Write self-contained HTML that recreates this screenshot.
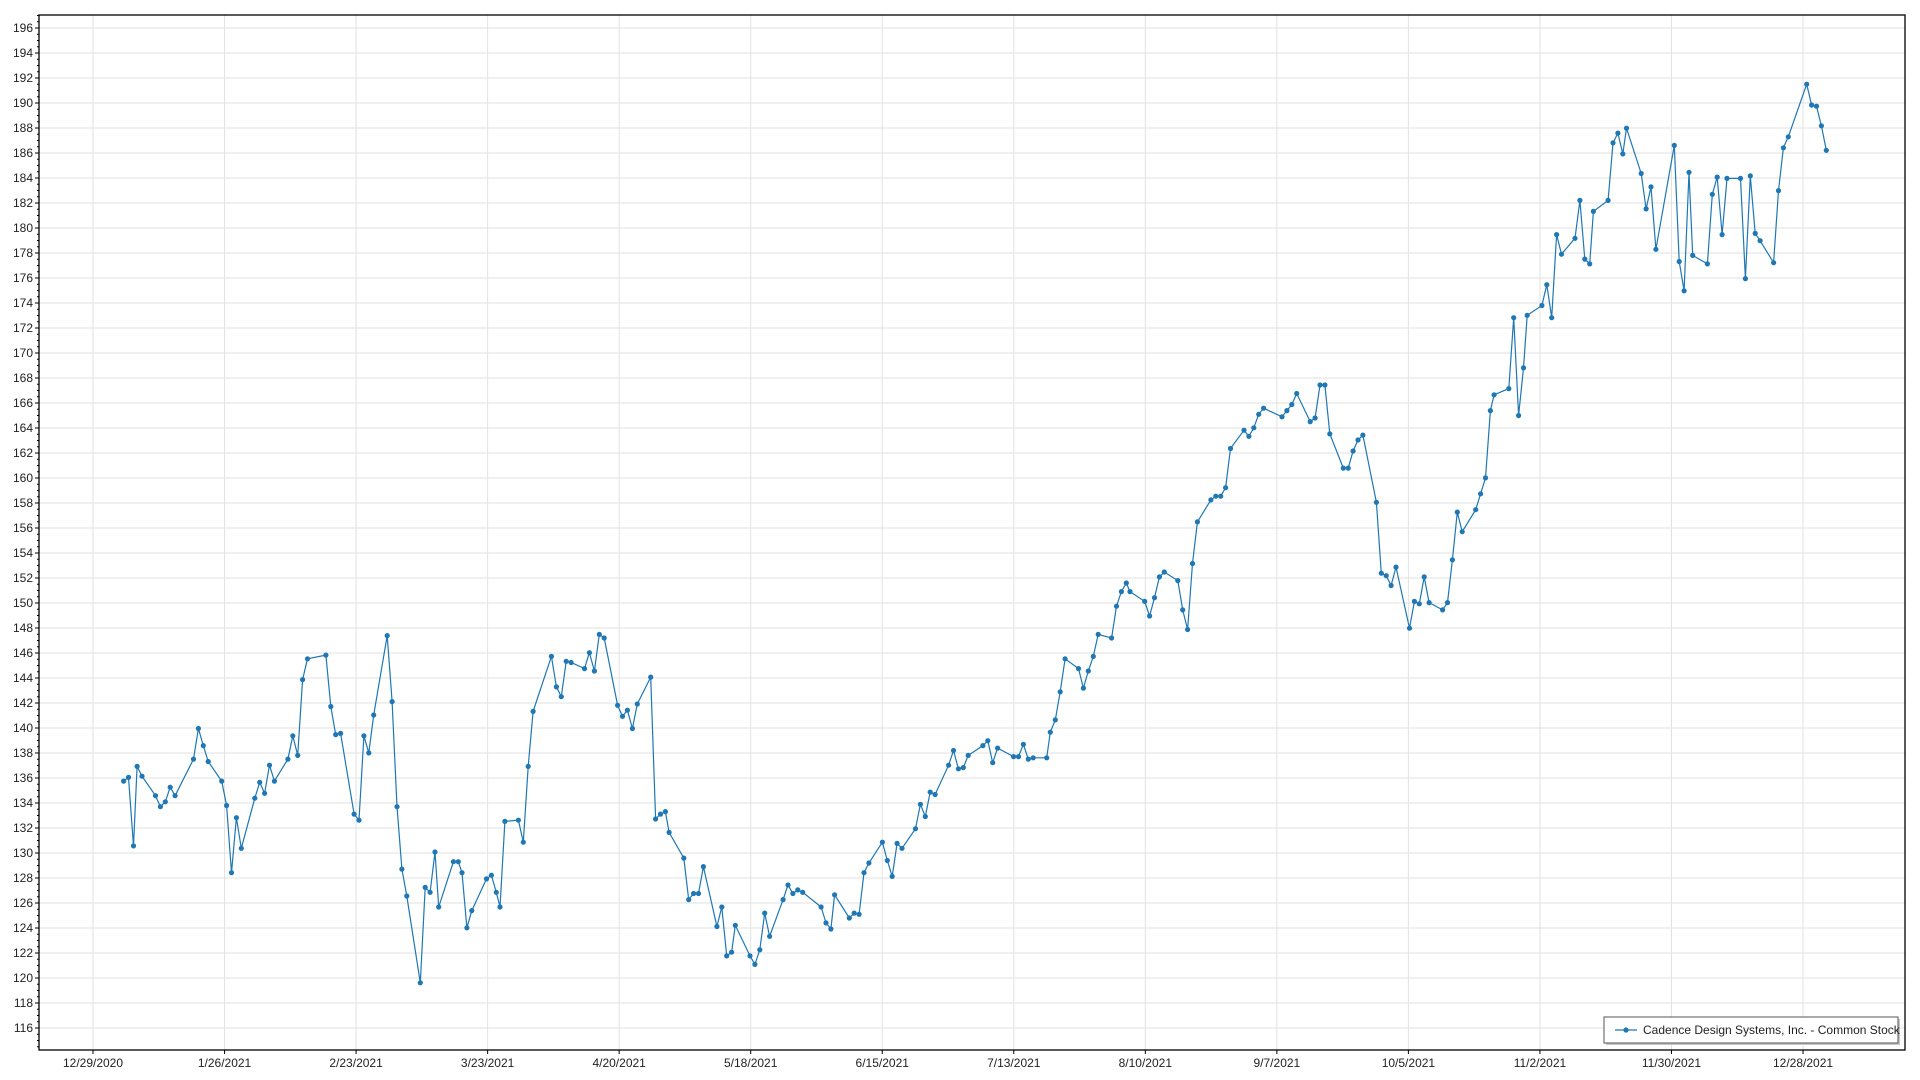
<!DOCTYPE html>
<html><head><meta charset="utf-8"><style>
html,body{margin:0;padding:0;background:#fff;width:1920px;height:1080px;overflow:hidden}
svg text{font-family:"Liberation Sans",sans-serif;font-size:12px;fill:#222}
</style></head><body>
<svg id="c" width="1920" height="1080" xmlns="http://www.w3.org/2000/svg"></svg>
<script>
const s=document.getElementById('c');let h='';
const L=39,T=15,R=1905,B=1050;
const Y=v=>28+(196-v)*12.5;
// grid horizontal
for(let v=116;v<=196;v+=2){const y=Y(v);h+=`<line x1="${L}" x2="${R}" y1="${y}" y2="${y}" stroke="#e2e2e2"/>`;
h+=`<line x1="${L-4}" x2="${L}" y1="${y}" y2="${y}" stroke="#000"/><text x="${L-6}" y="${y+4}" text-anchor="end">${v}</text>`;}
for(let v=114.5;v<=197;v+=0.5){if(v%2===0)continue;const y=Y(v);if(y<T||y>B)continue;h+=`<line x1="${L-2}" x2="${L}" y1="${y}" y2="${y}" stroke="#000"/>`;}
const labs=["12/29/2020","1/26/2021","2/23/2021","3/23/2021","4/20/2021","5/18/2021","6/15/2021","7/13/2021","8/10/2021","9/7/2021","10/5/2021","11/2/2021","11/30/2021","12/28/2021"];
labs.forEach((t,i)=>{const x=93+i*131.54;h+=`<line x1="${x}" x2="${x}" y1="${T}" y2="${B}" stroke="#e2e2e2"/><line x1="${x}" x2="${x}" y1="${B}" y2="${B+4}" stroke="#000"/><text x="${x}" y="${B+17}" text-anchor="middle">${t}</text>`;});
h+=`<rect x="${L}" y="${T}" width="${R-L}" height="${B-T}" fill="none" stroke="#000" stroke-width="1.3"/>`;
const d=[[101,637],[105,634],[109,690],[112,625],[116,633],[127,649],[131,658],[135,654],[139,642],[143,649],[158,619],[162,594],[166,608],[170,621],[181,637],[185,657],[189,712],[193,667],[197,692],[208,651],[212,638],[216,647],[220,624],[224,637],[235,619],[239,600],[243,616],[247,554],[251,537],[266,534],[270,576],[274,599],[278,598],[289,664],[293,669],[297,600],[301,614],[305,583],[316,518],[320,572],[324,658],[328,709],[332,731],[343,802],[347,724],[351,728],[355,695],[358,740],[370,703],[374,703],[377,712],[381,757],[385,743],[397,717],[401,714],[405,728],[408,740],[412,670],[423,669],[427,687],[431,625],[435,580],[450,535],[454,560],[458,568],[462,539],[466,540],[477,545],[481,532],[485,547],[489,517],[493,520],[504,575],[508,584],[512,579],[516,594],[520,574],[531,552],[535,668],[539,664],[543,662],[546,679],[558,700],[562,734],[566,729],[570,729],[574,707],[585,756],[589,740],[593,780],[597,777],[600,755],[612,780],[616,787],[620,775],[624,745],[628,764],[639,734],[643,722],[647,729],[651,726],[655,728],[670,740],[674,753],[678,758],[681,730],[693,749],[697,745],[701,746],[705,712],[709,704],[720,687],[724,702],[728,715],[732,688],[736,692],[747,676],[751,656],[755,666],[759,646],[763,648],[774,624],[778,612],[782,627],[786,626],[790,616],[802,608],[806,604],[810,622],[814,610],[827,617],[831,617],[835,607],[839,619],[843,618],[854,618],[857,597],[861,587],[865,564],[869,537],[880,545],[884,561],[888,547],[892,535],[896,517],[907,520],[911,494],[915,482],[919,475],[922,482],[934,490],[938,502],[942,487],[946,470],[950,466],[961,473],[965,497],[969,513],[973,459],[977,425],[988,407],[992,404],[996,404],[1000,397],[1004,365],[1015,350],[1019,355],[1023,348],[1027,337],[1031,332],[1046,339],[1050,334],[1054,329],[1058,320],[1069,343],[1073,340],[1077,313],[1081,313],[1085,353],[1096,381],[1100,381],[1104,367],[1108,358],[1112,354],[1123,409],[1127,467],[1131,469],[1135,477],[1139,462],[1150,512],[1154,490],[1158,492],[1162,470],[1166,491],[1177,497],[1181,491],[1185,456],[1189,417],[1193,433],[1204,415],[1208,402],[1212,389],[1216,334],[1219,321],[1231,316],[1235,258],[1239,338],[1243,299],[1246,256],[1258,248],[1262,231],[1266,258],[1270,190],[1274,206],[1285,193],[1289,162],[1293,210],[1297,214],[1300,171],[1312,162],[1316,115],[1320,107],[1324,124],[1327,103],[1339,140],[1343,169],[1347,151],[1351,202],[1366,117],[1370,212],[1374,236],[1378,139],[1381,207],[1393,214],[1397,157],[1401,143],[1405,190],[1409,144],[1420,144],[1424,226],[1428,142],[1432,189],[1436,195],[1447,213],[1451,154],[1455,119],[1459,110],[1474,67],[1478,84],[1482,85],[1486,101],[1490,121]];
const P=d.map(([x,y])=>[(93+(x-76)*1.2258).toFixed(1),(28+(y-21)*1.2225).toFixed(1)]);
h+=`<polyline fill="none" stroke="#1f77b4" stroke-width="1.2" points="${P.map(p=>p.join(',')).join(' ')}"/>`;
P.forEach(p=>h+=`<circle cx="${p[0]}" cy="${p[1]}" r="2.6" fill="#1f77b4"/>`);
// legend
h+=`<rect x="1606" y="1019" width="294" height="26" fill="#c8c8c8"/><rect x="1604" y="1017" width="294" height="26" fill="#fff" stroke="#555"/>`;
h+=`<line x1="1615" x2="1637" y1="1030" y2="1030" stroke="#1f77b4" stroke-width="1.2"/><circle cx="1626" cy="1030" r="2.6" fill="#1f77b4"/><text x="1643" y="1034">Cadence Design Systems, Inc. - Common Stock</text>`;
s.innerHTML=h;
</script>
</body></html>
